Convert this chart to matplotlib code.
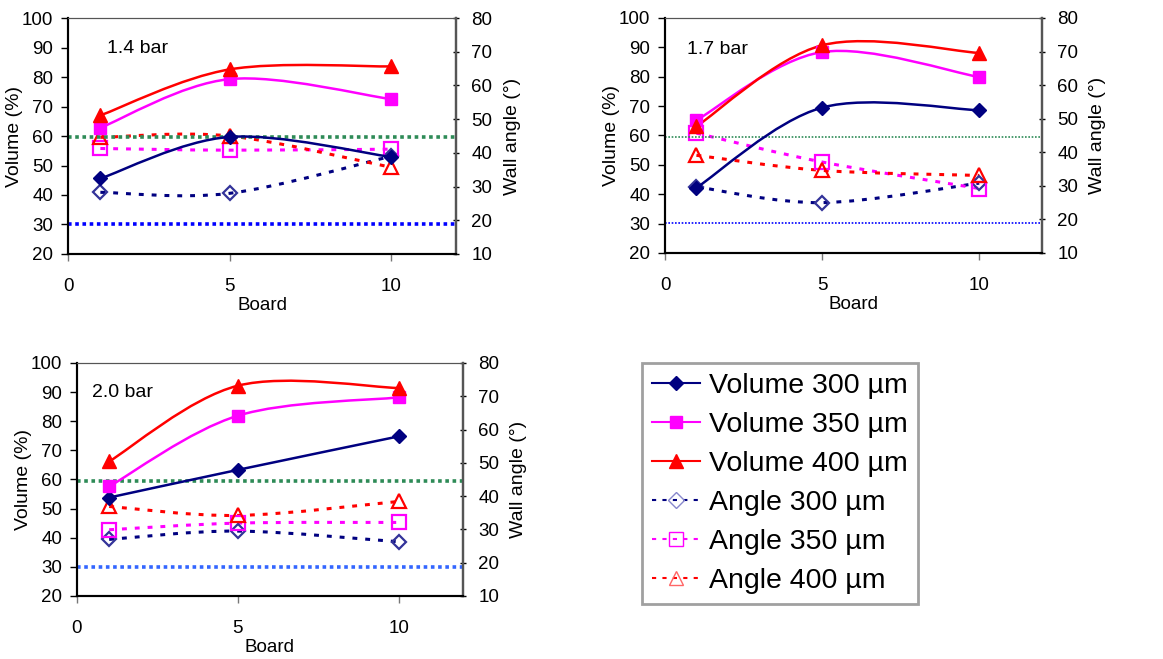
import matplotlib
matplotlib.use("Agg")
import matplotlib.pyplot as plt
from matplotlib.path import Path
from matplotlib.patches import PathPatch
from matplotlib.lines import Line2D

plt.rcParams['font.family'] = ['Liberation Sans', 'DejaVu Sans']

boards = [1, 5, 10]
pressures = ["1.4 bar", "1.7 bar", "2.0 bar"]

vol_300 = [[45.6, 59.7, 52.9], [42.2, 69.5, 68.6], [53.8, 63.3, 74.8]]
vol_350 = [[62.8, 79.3, 72.5], [65.2, 88.4, 79.9], [57.6, 81.9, 88.2]]
vol_400 = [[67.0, 82.6, 83.6], [63.1, 90.7, 88.1], [66.2, 92.2, 91.4]]

ang_300 = [[28.3, 28.0, 39.0], [29.7, 25.0, 30.8], [27.0, 29.5, 26.3]]
ang_350 = [[41.3, 40.8, 41.1], [45.7, 37.1, 29.2], [29.9, 31.9, 32.1]]
ang_400 = [[44.6, 45.0, 35.7], [39.1, 34.6, 33.1], [36.9, 34.2, 38.4]]

ref_green = [59.5, 59.5, 59.4]
ref_blue = [30.2, 30.2, 29.9]

legend_labels = ["Volume 300 µm", "Volume 350 µm", "Volume 400 µm",
                 "Angle 300 µm", "Angle 350 µm", "Angle 400 µm"]

NAVY = "#000080"
MAG = "#FF00FF"
RED = "#FF0000"
SLATE = "#333399"

fig = plt.figure(figsize=(11.63, 6.59), dpi=100)

positions = [
    [0.0585, 0.6146, 0.3337, 0.3580],
    [0.5718, 0.6161, 0.3242, 0.3566],
    [0.0662, 0.0956, 0.3319, 0.3536],
]
label_pos = [(0.10, 0.873), (0.058, 0.864), (0.04, 0.875)]
ref_lw = [2.6, 1.2, 2.6]
blue_cols = ["#0000FF", "#0000FF", "#3366FF"]

FS = 13.5
LFS = 14


def smooth_path(xs, ys):
    pts = list(zip(xs, ys))
    n = len(pts)
    verts = [pts[0]]
    codes = [Path.MOVETO]
    for i in range(n - 1):
        p0 = pts[max(i - 1, 0)]
        p1 = pts[i]
        p2 = pts[i + 1]
        p3 = pts[min(i + 2, n - 1)]
        c1 = (p1[0] + (p2[0] - p0[0]) / 6.0, p1[1] + (p2[1] - p0[1]) / 6.0)
        c2 = (p2[0] - (p3[0] - p1[0]) / 6.0, p2[1] - (p3[1] - p1[1]) / 6.0)
        verts += [c1, c2, p2]
        codes += [Path.CURVE4] * 3
    return Path(verts, codes)


def draw_series(ax, ys, color, lw, marker, ms, mfc, mec, mew, dashes=None):
    patch = PathPatch(smooth_path(boards, ys), facecolor="none", edgecolor=color,
                      lw=lw, zorder=3, capstyle="butt")
    if dashes is not None:
        patch.set_linestyle((0, dashes))
    ax.add_patch(patch)
    ax.plot(boards, ys, linestyle="none", marker=marker, ms=ms, mfc=mfc,
            mec=mec, mew=mew, zorder=4)


for k in range(3):
    ax = fig.add_axes(positions[k])
    ax2 = ax.twinx()
    ax.set_xlim(0, 12)
    ax.set_ylim(20, 100)
    ax2.set_ylim(10, 80)
    ax.set_xticks([0, 5, 10])
    ax.set_yticks(range(20, 101, 10))
    ax2.set_yticks(range(10, 81, 10))
    ax.tick_params(axis="both", labelsize=FS, length=5, width=1, direction="out")
    ax.tick_params(axis="y", pad=5.5)
    ax.tick_params(axis="x", color="#777777", pad=12)
    ax2.tick_params(axis="y", labelsize=FS, length=5, width=1, direction="inout", pad=8.5)
    ax.set_ylabel("Volume (%)", fontsize=LFS, labelpad=-1)
    ax2.set_ylabel("Wall angle (°)", fontsize=LFS, labelpad=8)
    ax.set_xlabel("Board", fontsize=FS, labelpad=2)
    for a in (ax, ax2):
        a.spines["top"].set_color("#555555")
        a.spines["right"].set_color("#555555")
        a.spines["right"].set_linewidth(1.6)
        a.spines["left"].set_linewidth(1.5)
        a.spines["bottom"].set_linewidth(1.5)
    ax.set_zorder(ax2.get_zorder() + 1)
    ax.patch.set_visible(False)

    ax.axhline(ref_green[k], color="#2E8B57", lw=ref_lw[k],
               linestyle=(0, (1, 1)), zorder=2)
    ax.axhline(ref_blue[k], color=blue_cols[k], lw=ref_lw[k],
               linestyle=(0, (1, 1)), zorder=2)

    # angle series on the right axis
    draw_series(ax2, ang_300[k], NAVY, 2.2, "D", 7.5, "none", SLATE, 1.6, (1.6, 2.6))
    draw_series(ax2, ang_350[k], MAG, 2.2, "s", 9.5, "none", MAG, 1.6, (1.6, 2.6))
    draw_series(ax2, ang_400[k], RED, 2.2, "^", 10, "none", RED, 1.6, (1.6, 2.6))
    # volume series
    draw_series(ax, vol_300[k], NAVY, 1.8, "D", 7.5, NAVY, NAVY, 1)
    draw_series(ax, vol_350[k], MAG, 1.8, "s", 9, MAG, MAG, 1)
    draw_series(ax, vol_400[k], RED, 1.8, "^", 10, RED, RED, 1)

    ax.text(label_pos[k][0], label_pos[k][1], pressures[k], transform=ax.transAxes,
            fontsize=LFS, va="center", ha="left")

handles = [
    Line2D([], [], color=NAVY, lw=1.5, marker="D", ms=7, mfc=NAVY, mec=NAVY),
    Line2D([], [], color=MAG, lw=1.5, marker="s", ms=9, mfc=MAG, mec=MAG),
    Line2D([], [], color=RED, lw=1.5, marker="^", ms=10, mfc=RED, mec=RED),
    Line2D([], [], color=NAVY, lw=1.5, linestyle=(0, (2, 3)), marker="D", ms=8,
           mfc="none", mec="#8888CC", mew=1),
    Line2D([], [], color=MAG, lw=1.5, linestyle=(0, (2, 3)), marker="s", ms=9.5,
           mfc="none", mec=MAG, mew=1),
    Line2D([], [], color=RED, lw=1.5, linestyle=(0, (2, 3)), marker="^", ms=10.5,
           mfc="none", mec="#FF6666", mew=1),
]
leg = fig.legend(handles, legend_labels, loc="upper left",
                 bbox_to_anchor=(642 / 1163, 1 - 363 / 659),
                 fontsize=20.5, frameon=True, fancybox=False,
                 handlelength=1.7, handletextpad=0.3, labelspacing=0.46,
                 borderpad=0.35, borderaxespad=0)
leg.get_frame().set_edgecolor("#888888")
leg.get_frame().set_linewidth(2)

fig.savefig("out.png", dpi=100)
